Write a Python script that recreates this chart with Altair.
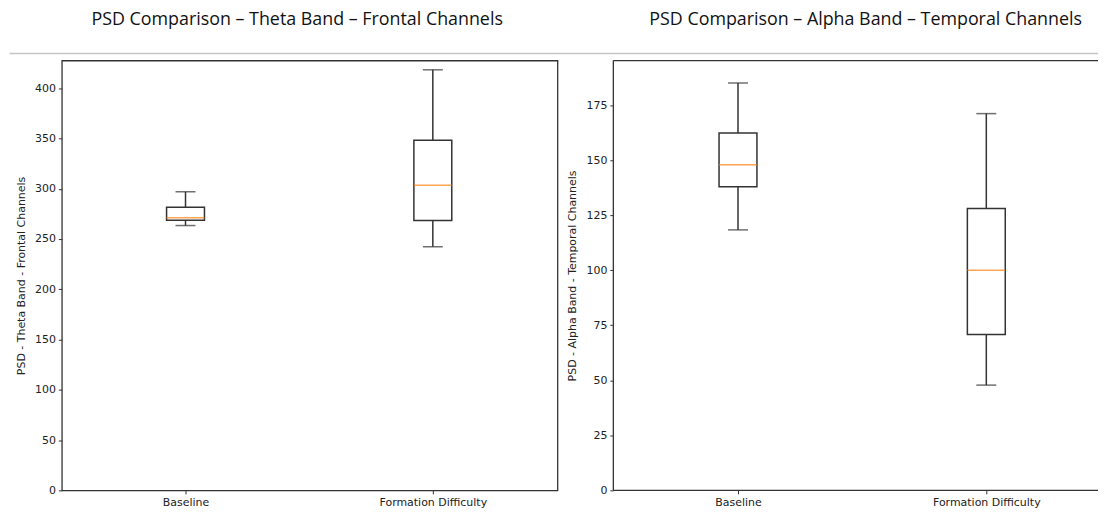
import altair as alt
import pandas as pd

categories = ["Baseline", "Formation Difficulty"]

theta_lo = [263.4, 242.3]
theta_q1 = [268.6, 268.3]
theta_med = [271.2, 303.5]
theta_q3 = [281.7, 348.2]
theta_hi = [297.0, 418.3]

alpha_lo = [118.3, 47.8]
alpha_q1 = [137.9, 70.8]
alpha_med = [147.9, 100.0]
alpha_q3 = [162.3, 128.0]
alpha_hi = [185.0, 171.1]

theta_ticks = [0, 50, 100, 150, 200, 250, 300, 350, 400]
alpha_ticks = [0, 25, 50, 75, 100, 125, 150, 175]

LINE = "#333333"
MEDIAN = "#ff7f0e"
HEIGHT = 431


def make_df(lo, q1, med, q3, hi):
    return pd.DataFrame({"cat": categories, "lo": lo, "q1": q1, "med": med, "q3": q3, "hi": hi})


def panel(df, title, ytitle, ymax, ticks, dx, offset, width, xrange, framed, separator=False):
    xaxis = alt.Axis(title=None, labelAngle=0, labelPadding=3)
    yaxis = alt.Axis(values=ticks, titlePadding=8, labelPadding=3)
    xenc = alt.X(
        "cat:N",
        sort=categories,
        scale=alt.Scale(type="point", range=xrange, padding=0),
        axis=xaxis,
    )
    yscale = alt.Scale(domain=[0, ymax], nice=False, zero=True)

    def yenc(field):
        return alt.Y(field, type="quantitative", scale=yscale, axis=yaxis, title=ytitle)

    base = alt.Chart(df).encode(x=xenc)
    whisk = base.mark_rule(color=LINE, strokeWidth=1.5).encode(y=yenc("lo"), y2="hi:Q")
    box = base.mark_bar(size=38, fill="white", stroke=LINE, strokeWidth=1.5).encode(
        y=yenc("q1"), y2="q3:Q"
    )
    med = base.mark_tick(size=38, thickness=1.5, color=MEDIAN).encode(y=yenc("med"))
    caplo = base.mark_tick(size=20, thickness=1.5, color=LINE).encode(y=yenc("lo"))
    caphi = base.mark_tick(size=20, thickness=1.5, color=LINE).encode(y=yenc("hi"))
    layers = [whisk, box, med, caplo, caphi]
    one = pd.DataFrame({"k": [0]})
    if separator:
        sep = alt.Chart(one).mark_rule(color="#c6c6c6", strokeWidth=1.5).encode(
            x=alt.value(-52.5), x2=alt.value(1039), y=alt.value(-7)
        )
        layers.append(sep)
    if not framed:
        frame = alt.Chart(one).mark_rule(color=LINE, strokeWidth=1.3)
        layers.append(frame.encode(x=alt.value(0), x2=alt.value(width), y=alt.value(0)))
        layers.append(frame.encode(x=alt.value(0), x2=alt.value(width), y=alt.value(HEIGHT)))
        layers.append(frame.encode(x=alt.value(0), y=alt.value(0), y2=alt.value(HEIGHT)))
    props = dict(
        width=width,
        height=HEIGHT,
        title=alt.TitleParams(title, dx=dx, offset=offset),
    )
    if not framed:
        props["view"] = alt.ViewBackground(stroke="transparent")
    return alt.layer(*layers).properties(**props)


left = panel(
    make_df(theta_lo, theta_q1, theta_med, theta_q3, theta_hi),
    "PSD Comparison – Theta Band – Frontal Channels",
    "PSD - Theta Band - Frontal Channels",
    427.5,
    theta_ticks,
    -12.5,
    23.9,
    497,
    [124, 372],
    True,
    separator=True,
)
right = panel(
    make_df(alpha_lo, alpha_q1, alpha_med, alpha_q3, alpha_hi),
    "PSD Comparison – Alpha Band – Temporal Channels",
    "PSD - Alpha Band - Temporal Channels",
    195.2,
    alpha_ticks,
    10,
    31,
    486,
    [125, 374],
    False,
)

chart = (
    alt.hconcat(left, right, spacing=56, bounds="flush")
    .properties(padding={"left": 0, "top": 1, "right": 0, "bottom": 0}, background="white")
    .configure_view(stroke=LINE, strokeWidth=1.3)
    .configure_axis(
        labelFont="DejaVu Sans",
        labelFontSize=11,
        labelColor="#222222",
        titleFont="DejaVu Sans",
        titleFontSize=11,
        titleFontWeight="normal",
        titleColor="#222222",
        tickSize=3.5,
        tickColor=LINE,
        tickWidth=1,
        domain=False,
        grid=False,
    )
    .configure_title(font="Open Sans", fontSize=17.9, fontWeight="normal", color="#111111")
)

chart.save("out.html", embed_options={"renderer": "svg", "actions": False})
